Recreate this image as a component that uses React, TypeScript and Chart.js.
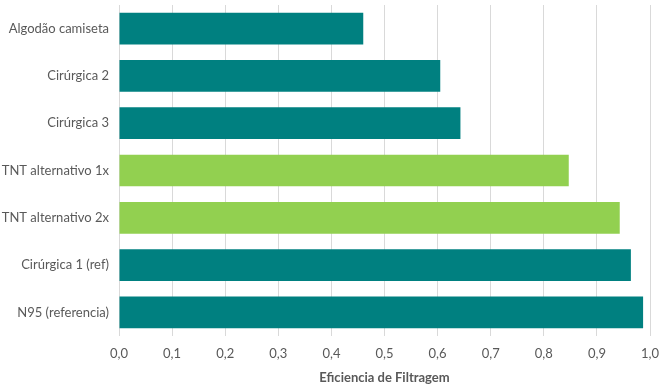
import React, { useEffect, useRef } from "react";
import { Chart, registerables } from "chart.js";

Chart.register(...registerables);

const categories = [
  "Algodão camiseta",
  "Cirúrgica 2",
  "Cirúrgica 3",
  "TNT alternativo 1x",
  "TNT alternativo 2x",
  "Cirúrgica 1 (ref)",
  "N95 (referencia)",
];
const efficiency = [0.46, 0.605, 0.643, 0.847, 0.943, 0.964, 0.987];
const barColors = ["#008080", "#008080", "#008080", "#92D050", "#92D050", "#008080", "#008080"];
const xTitle = "Eficiencia de Filtragem";

export default function App() {
  const ref = useRef<HTMLCanvasElement>(null);
  useEffect(() => {
    document.body.style.margin = "0";
    const ctx = ref.current!;
    const chart = new Chart(ctx, {
      type: "bar",
      data: {
        labels: categories,
        datasets: [
          {
            data: efficiency,
            backgroundColor: barColors,
            borderWidth: 0,
            categoryPercentage: 1,
            barPercentage: 0.67,
          },
        ],
      },
      options: {
        indexAxis: "y",
        animation: false,
        responsive: false,
        maintainAspectRatio: false,
        layout: { padding: { left: 0, right: 12, top: 5, bottom: 0 } },
        plugins: { legend: { display: false }, tooltip: { enabled: false } },
        scales: {
          x: {
            min: 0,
            max: 1,
            ticks: {
              stepSize: 0.1,
              padding: 10,
              color: "#595959",
              font: { family: "Lato", size: 13 },
              callback: (v: any) => Number(v).toFixed(1).replace(".", ","),
            },
            grid: { color: "#d9d9d9", drawTicks: false, lineWidth: 1 },
            border: { display: false },
            title: {
              display: true,
              text: xTitle,
              color: "#595959",
              font: { family: "Lato", size: 13, weight: "bold" },
              padding: { top: 2, bottom: 0 },
            },
            afterFit: (s: any) => {
              s.height = 50;
              s.paddingLeft = 0;
              s.paddingRight = 0;
            },
          },
          y: {
            ticks: {
              padding: 10,
              color: "#595959",
              font: { family: "Lato", size: 13 },
            },
            grid: { display: false, drawTicks: false },
            border: { display: false },
            afterFit: (s: any) => {
              s.width = 119;
              s.paddingTop = 0;
              s.paddingBottom = 0;
            },
          },
        },
      },
    });
    return () => chart.destroy();
  }, []);
  return (
    <div style={{ width: 662, height: 386 }}>
      <canvas ref={ref} width={662} height={386} />
    </div>
  );
}
